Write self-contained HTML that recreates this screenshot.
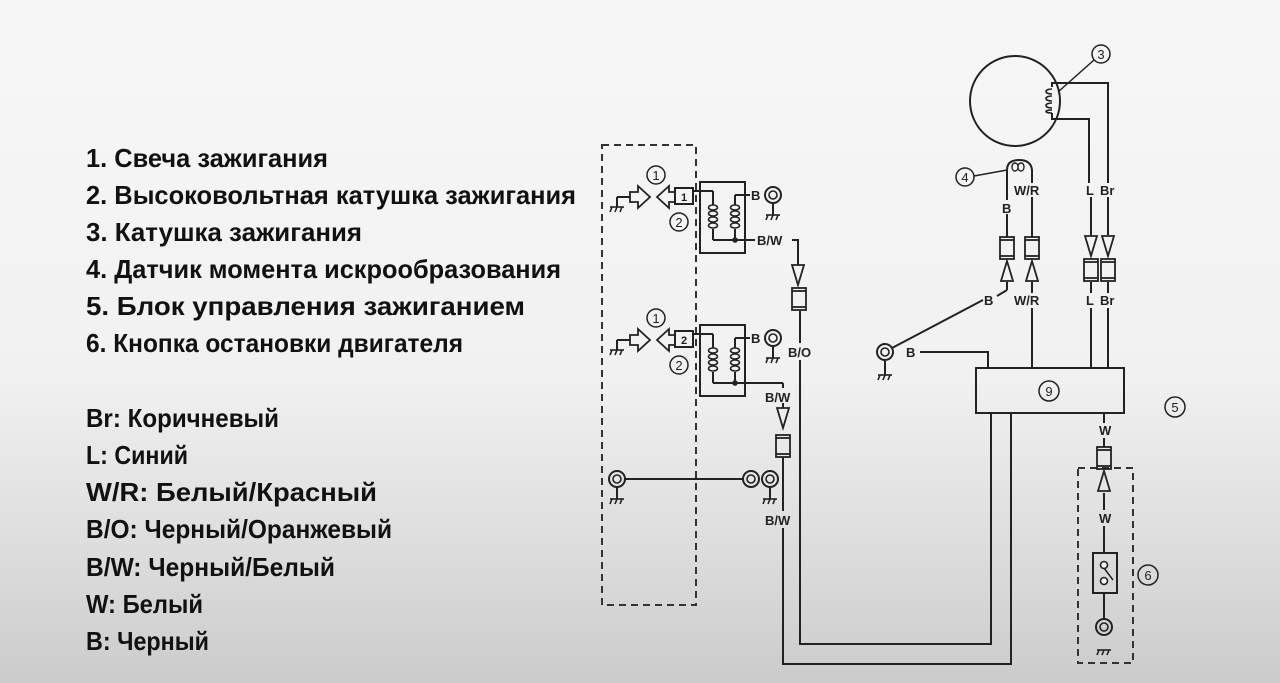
<!DOCTYPE html>
<html><head><meta charset="utf-8"><style>
html,body{margin:0;padding:0;}
body{width:1280px;height:683px;overflow:hidden;background:linear-gradient(180deg,#f7f7f7 0%,#f1f1f1 55%,#d9d9d9 85%,#cbcbcb 100%);}
svg{position:absolute;left:0;top:0;}
.t{font-family:"Liberation Sans Narrow","Liberation Sans","Noto Sans CJK SC",sans-serif;font-weight:bold;font-size:26px;fill:#111;}
.s{font-family:"Liberation Sans",sans-serif;font-weight:bold;font-size:13px;fill:#222;}
.n{font-family:"Liberation Sans",sans-serif;font-size:13px;fill:#222;text-anchor:middle;}
</style></head><body>
<svg width="1280" height="683" viewBox="0 0 1280 683">
<g class="t">
<text x="86" y="167" textLength="242" lengthAdjust="spacingAndGlyphs">1. Свеча зажигания</text>
<text x="86" y="204" textLength="490" lengthAdjust="spacingAndGlyphs">2. Высоковольтная катушка зажигания</text>
<text x="86" y="241" textLength="276" lengthAdjust="spacingAndGlyphs">3. Катушка зажигания</text>
<text x="86" y="278" textLength="475" lengthAdjust="spacingAndGlyphs">4. Датчик момента искрообразования</text>
<text x="86" y="315" textLength="439" lengthAdjust="spacingAndGlyphs">5. Блок управления зажиганием</text>
<text x="86" y="352" textLength="377" lengthAdjust="spacingAndGlyphs">6. Кнопка остановки двигателя</text>
<text x="86" y="427" textLength="193" lengthAdjust="spacingAndGlyphs">Br: Коричневый</text>
<text x="86" y="464" textLength="102" lengthAdjust="spacingAndGlyphs">L: Синий</text>
<text x="86" y="501" textLength="291" lengthAdjust="spacingAndGlyphs">W/R: Белый/Красный</text>
<text x="86" y="538" textLength="306" lengthAdjust="spacingAndGlyphs">B/O: Черный/Оранжевый</text>
<text x="86" y="576" textLength="249" lengthAdjust="spacingAndGlyphs">B/W: Черный/Белый</text>
<text x="86" y="613" textLength="117" lengthAdjust="spacingAndGlyphs">W: Белый</text>
<text x="86" y="650" textLength="123" lengthAdjust="spacingAndGlyphs">B: Черный</text>
</g>

<defs>
<g id="gnd" stroke="#222" stroke-width="1.6" fill="none">
<line x1="-7" y1="0" x2="7" y2="0"/><line x1="-5" y1="0" x2="-7" y2="5"/><line x1="0" y1="0" x2="-2" y2="5"/><line x1="5" y1="0" x2="3" y2="5"/>
</g>
<g id="ring" stroke="#222" fill="none"><circle r="8" stroke-width="2"/><circle r="4" stroke-width="1.6"/></g>
<g id="coil" stroke="#222" stroke-width="1.6" fill="none">
<path d="M0,0 c-6,0 -6,5 0,5 c6,0 6,-5 0,-5 M0,6 c-6,0 -6,5 0,5 c6,0 6,-5 0,-5 M0,12 c-6,0 -6,5 0,5 c6,0 6,-5 0,-5 M0,18 c-6,0 -6,5 0,5 c6,0 6,-5 0,-5"/>
</g>
<g id="plugset" stroke="#222" stroke-width="2" fill="none">
<line x1="617" y1="197" x2="617" y2="207"/>
<line x1="617" y1="197" x2="630" y2="197"/>
<path d="M630,192 h8 v-6 l12,11 l-12,11 v-6 h-8 z" stroke-width="1.8"/>
<path d="M657,197 l12,-11 v6 h6 v10 h-6 v6 z" stroke-width="1.8"/>
<rect x="675" y="188" width="18" height="16"/>
<line x1="693" y1="191" x2="713" y2="191"/>
<rect x="700" y="182" width="45" height="71"/>
<line x1="713" y1="191" x2="713" y2="205"/>
<line x1="713" y1="229" x2="713" y2="240"/>
<line x1="735" y1="195" x2="735" y2="205"/>
<line x1="735" y1="229" x2="735" y2="240"/>
<line x1="735" y1="195" x2="750" y2="195"/>
<line x1="713" y1="240" x2="755" y2="240"/>
<circle cx="735" cy="240" r="1.8" fill="#222"/>
<circle cx="656" cy="175" r="9" stroke-width="1.5"/>
<circle cx="679" cy="222" r="9" stroke-width="1.5"/>
</g>
<g id="con" stroke="#222" stroke-width="1.8" fill="none">
<rect x="-7" y="0" width="14" height="22"/><line x1="-7" y1="3" x2="7" y2="3"/><line x1="-7" y1="19" x2="7" y2="19"/>
</g>
<path id="adn" d="M-6,0 h12 l-6,20 z" stroke="#222" stroke-width="1.8" fill="none"/>
<path id="aup" d="M-6,20 h12 l-6,-20 z" stroke="#222" stroke-width="1.8" fill="none"/>
</defs>

<g stroke="#333" stroke-width="2" fill="none" stroke-dasharray="7,5">
<rect x="602" y="145" width="94" height="460"/>
<rect x="1078" y="468" width="55" height="195"/>
</g>

<use href="#plugset"/>
<use href="#coil" x="713" y="205"/><use href="#coil" x="735" y="205"/>
<use href="#gnd" x="617" y="207"/>
<text class="n" x="656" y="180">1</text><text class="n" x="679" y="227">2</text>
<text class="s" x="684" y="201" style="font-size:11px" text-anchor="middle">1</text>
<use href="#plugset" y="143"/>
<use href="#coil" x="713" y="348"/><use href="#coil" x="735" y="348"/>
<use href="#gnd" x="617" y="350"/>
<text class="n" x="656" y="323">1</text><text class="n" x="679" y="370">2</text>
<text class="s" x="684" y="344" style="font-size:11px" text-anchor="middle">2</text>

<g class="s">
<text x="751" y="200">B</text><text x="751" y="343">B</text>
<text x="757" y="245">B/W</text>
<text x="788" y="357">B/O</text>
<text x="765" y="402">B/W</text>
<text x="765" y="525">B/W</text>
<text x="906" y="357">B</text>
<text x="1014" y="195">W/R</text>
<text x="1002" y="213">B</text>
<text x="1086" y="195">L</text><text x="1100" y="195">Br</text>
<text x="984" y="305">B</text><text x="1014" y="305">W/R</text>
<text x="1086" y="305">L</text><text x="1100" y="305">Br</text>
<text x="1099" y="435">W</text><text x="1099" y="523">W</text>
</g>

<use href="#ring" x="773" y="195"/><use href="#gnd" x="773" y="215"/>
<use href="#ring" x="773" y="338"/><use href="#gnd" x="773" y="358"/>
<use href="#ring" x="617" y="479"/><use href="#gnd" x="617" y="499"/>
<use href="#ring" x="751" y="479"/><use href="#ring" x="770" y="479"/><use href="#gnd" x="770" y="499"/>
<use href="#ring" x="885" y="352"/><use href="#gnd" x="885" y="375"/>
<use href="#ring" x="1104" y="627"/><use href="#gnd" x="1104" y="650"/>

<g stroke="#222" stroke-width="2" fill="none">
<line x1="773" y1="203" x2="773" y2="215"/>
<line x1="773" y1="346" x2="773" y2="358"/>
<line x1="617" y1="487" x2="617" y2="499"/>
<line x1="770" y1="487" x2="770" y2="499"/>
<line x1="885" y1="360" x2="885" y2="375"/>
<line x1="625" y1="479" x2="743" y2="479"/>
<polyline points="792,240 798,240 798,265"/>
<line x1="800" y1="311" x2="800" y2="343"/>
<polyline points="800,360 800,644 991,644 991,413"/>
<line x1="755" y1="383" x2="783" y2="383"/>
<line x1="783" y1="383" x2="783" y2="388"/>
<line x1="783" y1="403" x2="783" y2="408"/>
<line x1="783" y1="457" x2="783" y2="511"/>
<polyline points="783,528 783,664 1011,664 1011,413"/>
<rect x="976" y="368" width="148" height="45"/>
<circle cx="1015" cy="101" r="45"/>
<polyline points="1052,87 1052,83 1108,83 1108,183"/>
<polyline points="1052,113 1052,119 1089,119 1089,183"/>
<line x1="1058" y1="92" x2="1094" y2="60" stroke-width="1.5"/>
<circle cx="1101" cy="54" r="9" stroke-width="1.5"/>
<path d="M1007,200 V170 q0,-10 12,-10 q12,0 13,10 V183"/>
<line x1="1007" y1="170" x2="974" y2="176" stroke-width="1.5"/>
<circle cx="965" cy="177" r="9" stroke-width="1.5"/>
<line x1="1007" y1="214" x2="1007" y2="237"/>
<line x1="1032" y1="197" x2="1032" y2="237"/>
<line x1="1007" y1="282" x2="1007" y2="290"/><line x1="1007" y1="290" x2="997" y2="296"/>
<line x1="983" y1="300" x2="892" y2="348"/>
<line x1="1032" y1="282" x2="1032" y2="293"/>
<line x1="1032" y1="308" x2="1032" y2="368"/>
<polyline points="920,352 988,352 988,368"/>
<line x1="1091" y1="197" x2="1091" y2="235"/><line x1="1108" y1="197" x2="1108" y2="235"/>
<line x1="1091" y1="282" x2="1091" y2="293"/><line x1="1108" y1="282" x2="1108" y2="293"/>
<line x1="1091" y1="308" x2="1091" y2="368"/><line x1="1108" y1="308" x2="1108" y2="368"/>
<line x1="1104" y1="413" x2="1104" y2="423"/>
<line x1="1104" y1="438" x2="1104" y2="447"/>
<line x1="1104" y1="493" x2="1104" y2="510"/>
<line x1="1104" y1="526" x2="1104" y2="553"/>
<line x1="1104" y1="593" x2="1104" y2="619"/>
<rect x="1093" y="553" width="24" height="40"/>
<line x1="1104" y1="568" x2="1113" y2="580" stroke-width="1.5"/>
</g>
<g stroke="#222" stroke-width="1.6" fill="#f5f5f5"><circle cx="1104" cy="565" r="3.5"/><circle cx="1104" cy="581" r="3.5"/></g>
<path d="M1015,163 c-4,0 -4,8 0,8 c4,0 4,-8 0,-8 M1021,163 c-4,0 -4,8 0,8 c4,0 4,-8 0,-8" stroke="#222" stroke-width="1.4" fill="none"/>
<path d="M1052,89 c-8,0 -8,5 0,5 M1052,96 c-8,0 -8,5 0,5 M1052,103 c-8,0 -8,5 0,5 M1052,110 c-8,0 -8,3 0,3" stroke="#222" stroke-width="1.6" fill="none"/>

<use href="#adn" x="798" y="265"/><use href="#con" x="799" y="288"/>
<use href="#adn" x="783" y="408"/><use href="#con" x="783" y="435"/>
<use href="#con" x="1007" y="237"/><use href="#aup" x="1007" y="261"/>
<use href="#con" x="1032" y="237"/><use href="#aup" x="1032" y="261"/>
<use href="#adn" x="1091" y="236"/><use href="#con" x="1091" y="259"/>
<use href="#adn" x="1108" y="236"/><use href="#con" x="1108" y="259"/>
<use href="#con" x="1104" y="447"/><use href="#aup" x="1104" y="471"/>

<g stroke="#222" stroke-width="1.5" fill="none">
<circle cx="1049" cy="391" r="10"/><circle cx="1175" cy="407" r="10"/><circle cx="1148" cy="575" r="10"/>
</g>
<text class="n" x="1101" y="59">3</text><text class="n" x="965" y="182">4</text>
<text class="n" x="1049" y="396">9</text><text class="n" x="1175" y="412">5</text><text class="n" x="1148" y="580">6</text>
</svg>
</body></html>
